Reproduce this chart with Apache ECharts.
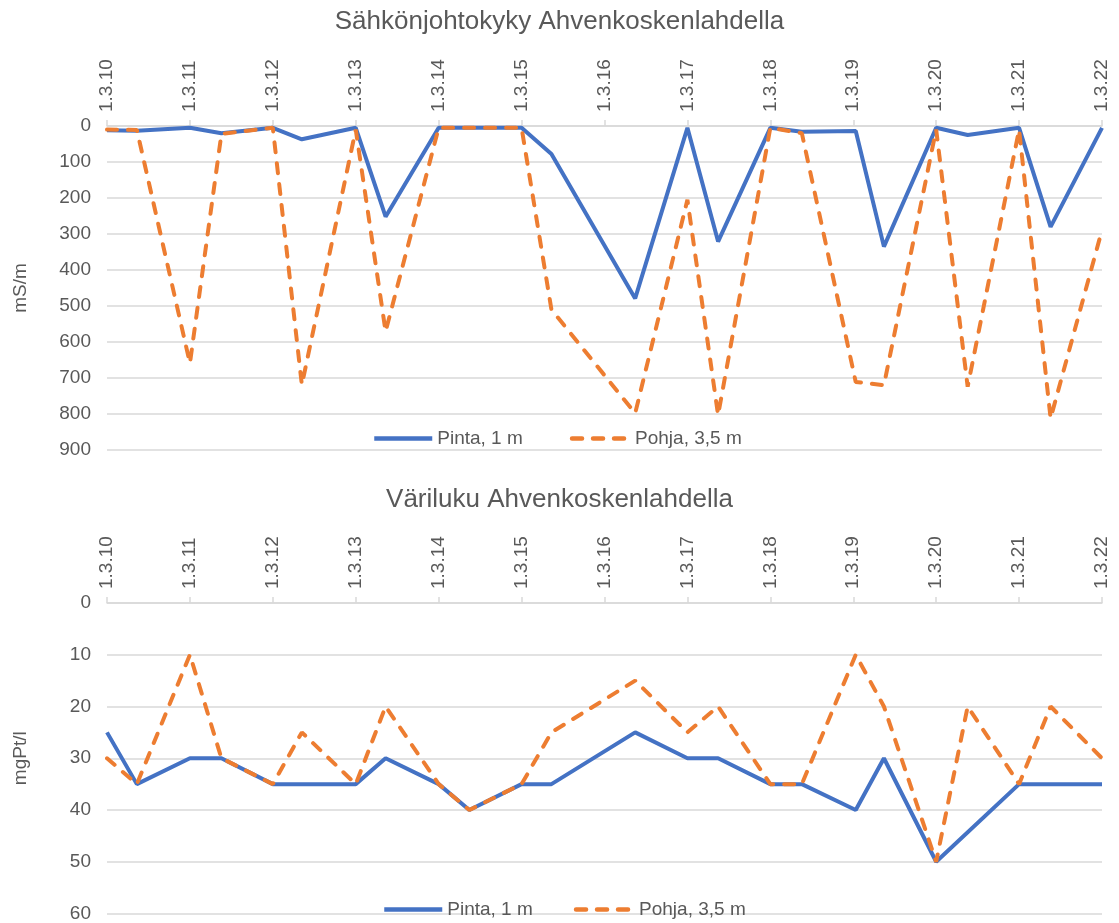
<!DOCTYPE html>
<html>
<head>
<meta charset="utf-8">
<script src="https://cdn.jsdelivr.net/npm/echarts@6/dist/echarts.min.js"></script>
<style>
  html, body { margin: 0; padding: 0; background: #fff; }
  #app { width: 1119px; height: 923px; }
</style>
</head>
<body>
<div id="app"></div>
<script>
// sampling dates as years (1.3.YY = 1 March of year 20YY)
var years = [10, 10.36, 11, 11.38, 12, 12.35, 13, 13.36, 14, 14.37, 15, 15.36, 16.37, 17, 17.37, 18, 18.38, 19.03, 19.37, 20, 20.38, 21, 21.38, 22];

// conductivity, mS/m
var condPinta = [12, 13, 5, 20, 5, 37, 5, 252, 5, 5, 5, 78, 479, 5, 321, 5, 16, 14, 335, 5, 25, 5, 280, 5];
var condPohja = [10, 11, 659, 22, 5, 719, 10, 571, 5, 5, 5, 510, 798, 205, 803, 5, 20, 711, 720, 10, 724, 10, 812, 289];

// colour number, mgPt/l
var colorPinta = [25, 35, 30, 30, 35, 35, 35, 30, 35, 40, 35, 35, 25, 30, 30, 35, 35, 40, 30, 50, null, 35, 35, 35];
var colorPohja = [30, 35, 10, 30, 35, 25, 35, 20, 35, 40, 35, 25, 15, 25, 20, 35, 35, 10, 20, 50, 20, 35, 20, 30];

var seriesNames = ['Pinta, 1 m', 'Pohja, 3,5 m'];

function pairs(vals) {
    var out = [];
    for (var i = 0; i < years.length; i++) {
        if (vals[i] !== null) out.push([years[i], vals[i]]);
    }
    return out;
}

var textColor = '#595959';
var gridColor = '#d9d9d9';
var fontFamily = 'Liberation Sans, Arial, sans-serif';

function xAxisFor(gridIndex) {
    return {
        type: 'value',
        gridIndex: gridIndex,
        position: 'top',
        min: 10,
        max: 22,
        interval: 1,
        axisLine: { show: true, lineStyle: { color: gridColor, width: 1.5 } },
        axisTick: { show: true, length: 6, lineStyle: { color: gridColor, width: 1.5 } },
        splitLine: { show: false },
        axisLabel: {
            rotate: 90,
            margin: 14,
            color: textColor,
            fontSize: 19,
            fontFamily: fontFamily,
            formatter: function (v) { return '1.3.' + v; }
        }
    };
}

function yAxisFor(gridIndex, max, interval, name) {
    return {
        type: 'value',
        gridIndex: gridIndex,
        inverse: true,
        min: 0,
        max: max,
        interval: interval,
        name: name,
        nameLocation: 'middle',
        nameGap: 77,
        nameTextStyle: { color: textColor, fontSize: 19, fontFamily: fontFamily },
        axisLine: { show: false },
        axisTick: { show: false },
        axisLabel: { color: textColor, fontSize: 19, fontFamily: fontFamily, margin: 16 },
        splitLine: { show: true, lineStyle: { color: gridColor, width: 1.5 } }
    };
}

function lineSeries(name, idx, vals, dashed) {
    return {
        name: name,
        type: 'line',
        xAxisIndex: idx,
        yAxisIndex: idx,
        data: pairs(vals),
        symbol: 'none',
        connectNulls: true,
        z: dashed ? 3 : 2,
        lineStyle: {
            width: 4,
            color: dashed ? '#ED7D31' : '#4472C4',
            type: dashed ? [10, 11] : 'solid',
            cap: dashed ? 'round' : 'butt'
        },
        itemStyle: { color: dashed ? '#ED7D31' : '#4472C4' }
    };
}

function legendAt(left, top, gap) {
    return {
        data: seriesNames,
        left: left,
        top: top,
        itemWidth: 58,
        itemHeight: 14,
        itemGap: gap,
        itemStyle: { opacity: 0 },
        lineStyle: { width: 4.5 },
        textStyle: { color: textColor, fontSize: 19, fontFamily: fontFamily }
    };
}

var myChart = echarts.init(document.getElementById('app'));
var option = {
    animation: false,
    backgroundColor: '#fff',
    title: [{
        text: 'Sähkönjohtokyky Ahvenkoskenlahdella',
        left: 'center',
        top: 4,
        textStyle: { color: textColor, fontSize: 26, fontWeight: 'normal', fontFamily: fontFamily }
    }, {
        text: 'Väriluku Ahvenkoskenlahdella',
        left: 'center',
        top: 482,
        textStyle: { color: textColor, fontSize: 26, fontWeight: 'normal', fontFamily: fontFamily }
    }],
    legend: [
        legendAt(367, 424, 47),
        legendAt(377, 895, 41)
    ],
    grid: [
        { left: 107, right: 17, top: 126, height: 324 },
        { left: 107, right: 17, top: 603, height: 311 }
    ],
    xAxis: [xAxisFor(0), xAxisFor(1)],
    yAxis: [yAxisFor(0, 900, 100, 'mS/m'), yAxisFor(1, 60, 10, 'mgPt/l')],
    series: [
        lineSeries(seriesNames[0], 0, condPinta, false),
        lineSeries(seriesNames[1], 0, condPohja, true),
        lineSeries(seriesNames[0], 1, colorPinta, false),
        lineSeries(seriesNames[1], 1, colorPohja, true)
    ]
};
myChart.setOption(option);
</script>
</body>
</html>
